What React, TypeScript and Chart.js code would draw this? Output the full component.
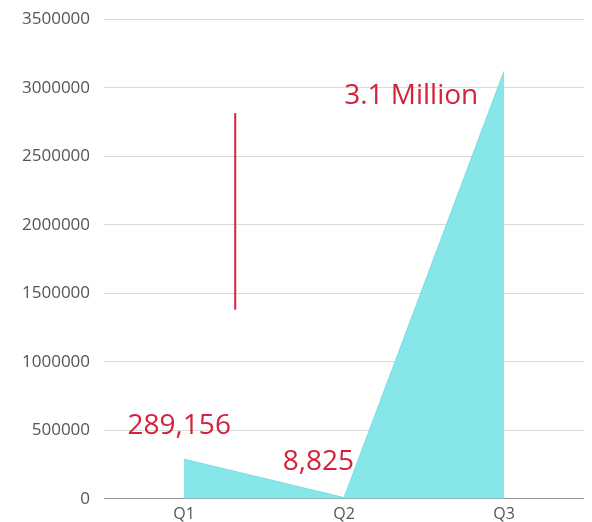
import React, { useEffect, useRef } from "react";
import { Chart, registerables } from "chart.js";

Chart.register(...registerables);

const categories = ["Q1", "Q2", "Q3"];
const revenue = [289156, 8825, 3120000];
const yTicksMax = 3500000;
const yTickStep = 500000;

const labelTexts = ["289,156", "8,825", "3.1 Million"];
const labelXs = [-0.03, 0.84, 1.42];
const labelYs = [530000, 270000, 2940000];

const markerX = 0.32;
const markerYFrom = 1380000;
const markerYTo = 2815000;

const FONT = "'Open Sans', sans-serif";

const annotPlugin = {
  id: "annot",
  afterDatasetsDraw(chart: any) {
    const { ctx, scales } = chart;
    const x = scales.x;
    const y = scales.y;
    ctx.save();
    ctx.strokeStyle = "#d3223a";
    ctx.lineWidth = 2;
    ctx.beginPath();
    const mx = x.getPixelForValue(markerX);
    ctx.moveTo(mx, y.getPixelForValue(markerYFrom));
    ctx.lineTo(mx, y.getPixelForValue(markerYTo));
    ctx.stroke();
    ctx.fillStyle = "#d3223a";
    ctx.font = "28px " + FONT;
    ctx.textAlign = "center";
    ctx.textBaseline = "middle";
    labelTexts.forEach((t, i) => {
      ctx.fillText(t, x.getPixelForValue(labelXs[i]), y.getPixelForValue(labelYs[i]));
    });
    ctx.restore();
  },
};

export default function App() {
  const ref = useRef<HTMLCanvasElement>(null);
  useEffect(() => {
    if (!ref.current) return;
    const chart = new Chart(ref.current, {
      type: "line",
      data: {
        labels: categories,
        datasets: [
          {
            data: revenue,
            fill: "origin",
            backgroundColor: "rgba(134,230,233,1)",
            borderColor: "rgba(120,222,226,1)",
            borderWidth: 1,
            pointRadius: 0,
            tension: 0,
          },
        ],
      },
      options: {
        animation: false,
        responsive: false,
        maintainAspectRatio: false,
        layout: { padding: { top: 0, right: 0, left: 0, bottom: 0 } },
        plugins: { legend: { display: false }, tooltip: { enabled: false } },
        scales: {
          x: {
            offset: true,
            grid: { display: false, drawTicks: false },
            border: { display: true, color: "#999" },
            ticks: { color: "#555", font: { family: FONT, size: 16 }, padding: 6 },
          },
          y: {
            min: 0,
            max: yTicksMax,
            grid: { color: "#d9d9d9", drawTicks: false },
            border: { display: false },
            ticks: {
              stepSize: yTickStep,
              color: "#555",
              font: { family: FONT, size: 17 },
              padding: 14,
              callback: (v: any) => String(v),
            },
          },
        },
      },
      plugins: [annotPlugin],
    });
    return () => chart.destroy();
  }, []);
  return (
    <div style={{ width: 576, height: 514, overflow: "hidden" }}>
      <canvas ref={ref} width={576} height={535} style={{ display: "block", marginTop: -13 }} />
    </div>
  );
}
